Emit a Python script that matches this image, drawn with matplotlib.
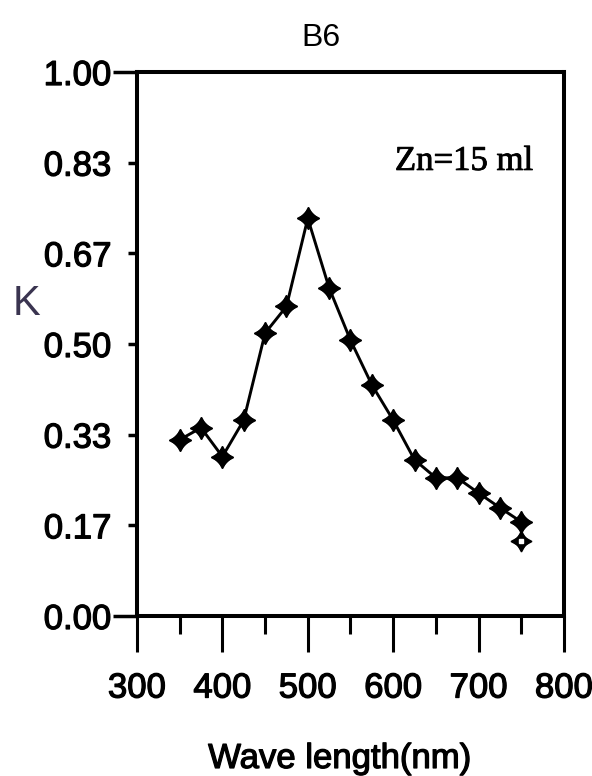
import matplotlib
matplotlib.use("Agg")
import matplotlib.pyplot as plt
import matplotlib.patheffects as pe

plt.rcParams['font.family'] = ['Liberation Sans', 'DejaVu Sans']

wavelength = [350, 375, 400, 425, 450, 475, 500, 525, 550, 575, 600,
              625, 650, 675, 700, 725, 750]
k_values = [0.324, 0.346, 0.293, 0.360, 0.520, 0.569, 0.731, 0.603, 0.507,
            0.425, 0.360, 0.287, 0.254, 0.254, 0.226, 0.199, 0.173]
extra_x = [750]
extra_k = [0.137]

y_ticks = [0, 1/6, 2/6, 3/6, 4/6, 5/6, 1]
y_labels = ['0.00', '0.17', '0.33', '0.50', '0.67', '0.83', '1.00']
x_ticks = [300, 400, 500, 600, 700, 800]

fig = plt.figure(figsize=(5.92, 7.76), dpi=100)
ax = fig.add_axes([0.2314, 0.2062, 0.7213, 0.7010])

ax.plot(wavelength, k_values, color='black', lw=2.1, zorder=2)
ax.plot([wavelength[-1]] + extra_x, [k_values[-1]] + extra_k, color='black', lw=2.1, zorder=2)
# marker: diamond plus four-pointed star
ax.plot(wavelength, k_values, ls='none', marker='D', ms=9.5, color='black', zorder=3)
ax.plot(wavelength, k_values, ls='none', marker=(4, 1, 0), ms=16, color='black', zorder=3)
ax.plot(extra_x, extra_k, ls='none', marker=(4, 1, 0), ms=15, color='black', zorder=3)
ax.plot(extra_x, extra_k, ls='none', marker='D', ms=8, color='black', zorder=3)
ax.plot(extra_x, extra_k, ls='none', marker='s', ms=3, color='white', zorder=4)

ax.set_xlim(300, 800)
ax.set_ylim(0, 1)
ax.set_xticks(x_ticks)
ax.set_xticks([350, 450, 550, 650, 750], minor=True)
ax.set_yticks(y_ticks)
ax.set_yticklabels(y_labels)

for s in ax.spines.values():
    s.set_linewidth(2.9)

ax.tick_params(axis='x', which='major', direction='out', length=26, width=2.2,
               labelsize=25, pad=14)
ax.tick_params(axis='x', which='minor', direction='out', length=13, width=2.2)
ax.tick_params(axis='y', direction='out', length=6.5, width=2.5,
               labelsize=25, pad=12)

yt = ax.yaxis.get_major_ticks()
yt[0].tick1line.set_markersize(17)
yt[-1].tick1line.set_markersize(17)

heavy = [pe.withStroke(linewidth=0.9, foreground='black')]
for lab in ax.get_xticklabels() + ax.get_yticklabels():
    lab.set_path_effects(heavy)

ax.set_title('B6', fontsize=23, x=0.43, pad=19)
ax.set_xlabel('Wave length(nm)', fontsize=25, path_effects=heavy)
ax.xaxis.set_label_coords(0.475, -0.2316)
ax.set_ylabel('K', fontsize=30, rotation=0, va='center', ha='center',
              color='#3a3450')
ax.yaxis.set_label_coords(-0.26, 0.574)

ax.text(0.766, 0.82, 'Zn=15 ml', transform=ax.transAxes, ha='center',
        va='baseline', fontsize=25, family=['Liberation Serif', 'DejaVu Serif'],
        path_effects=[pe.withStroke(linewidth=0.6, foreground='black')])

fig.savefig('out.png', dpi=100)
